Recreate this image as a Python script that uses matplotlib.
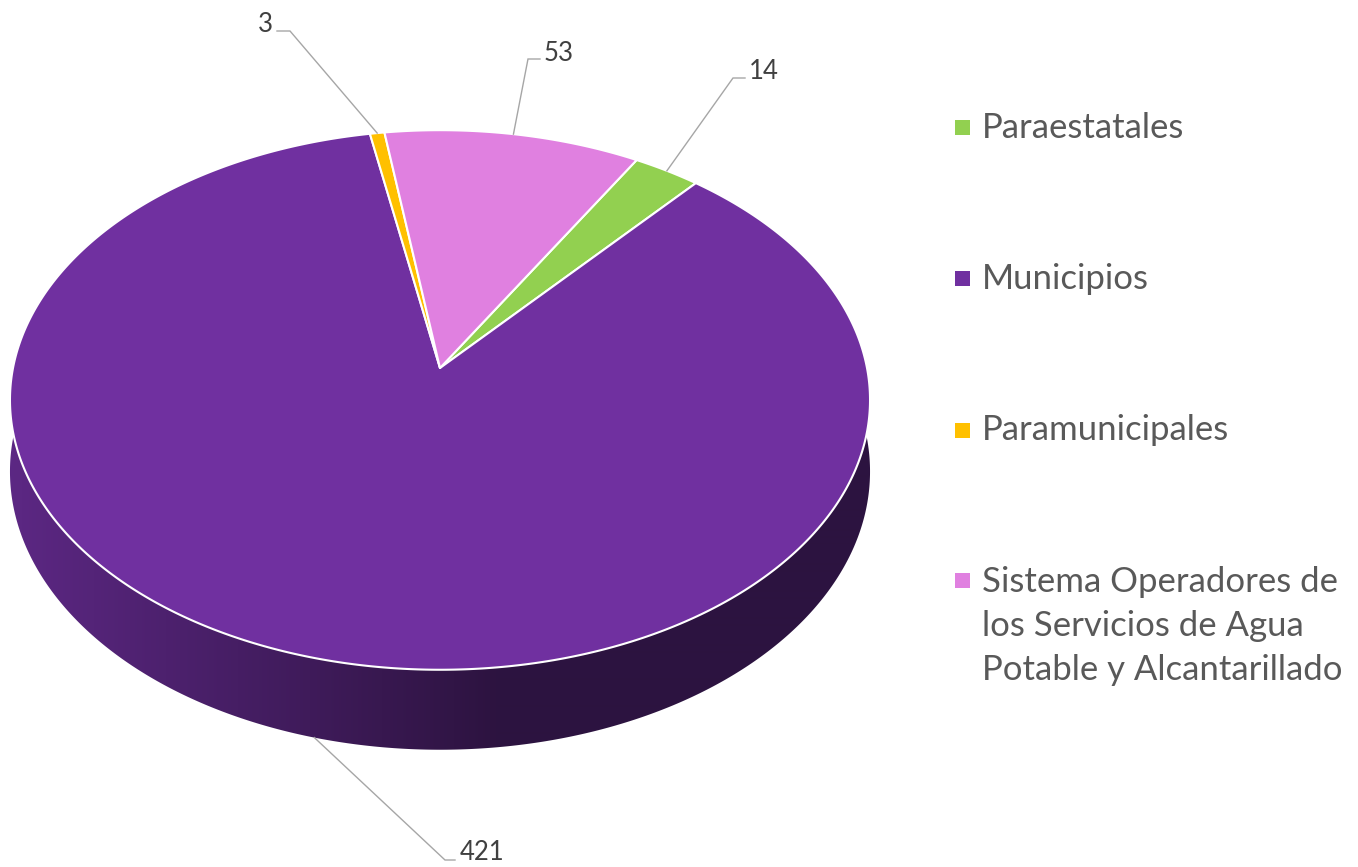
import numpy as np
import matplotlib
matplotlib.use("Agg")
import matplotlib.pyplot as plt
from matplotlib.patches import Polygon, Rectangle
from matplotlib.colors import to_rgb

# ---------------- data ----------------
categories = ["Paraestatales", "Municipios", "Paramunicipales",
              "Sistema Operadores de los Servicios de Agua Potable y Alcantarillado"]
legend_lines = [["Paraestatales"], ["Municipios"], ["Paramunicipales"],
                ["Sistema Operadores de", "los Servicios de Agua", "Potable y Alcantarillado"]]
values = [14, 421, 3, 53]
colors = ["#92D050", "#7030A0", "#FFC000", "#E080E0"]

# ---------------- layout ----------------
W, H = 1358, 867
fig = plt.figure(figsize=(W / 100, H / 100), dpi=100)
ax = fig.add_axes([0, 0, 1, 1])
ax.set_xlim(0, W)
ax.set_ylim(H, 0)
ax.axis("off")

FONT = "Lato"
cx, cy = 440, 368      # apex of pie (screen)
a, b = 427, 266        # projected radii
k = 0.1185             # perspective factor
h0 = 70.5              # depth
start = 30.5           # degrees clockwise from 12 o'clock


def proj(theta_deg, depth=0.0):
    t = np.radians(theta_deg)
    u, v = np.sin(t), np.cos(t)
    d = 1 + k * v
    return cx + a * u / d, cy - b * v / d + depth * h0 / d


total = float(sum(values))
angles = np.cumsum([0] + [v / total * 360 for v in values]) + start

# ---------- side walls (gradient, clipped) ----------
xs_col = np.arange(W) + 0.5
ucol = np.clip((xs_col - cx) / a, -1, 1)
fcol = np.clip(0.45 - 0.37 * ucol, 0.40, 0.82)
for i, val in enumerate(values):
    t1, t2 = angles[i], angles[i + 1]
    ts = np.linspace(t1, t2, max(4, int((t2 - t1) * 4)))
    ts = ts[np.cos(np.radians(ts)) < 0.15]
    if len(ts) < 2:
        continue
    tx_, ty_ = proj(ts)
    bx_, by_ = proj(ts, 1)
    pts = list(zip(tx_, ty_)) + list(zip(bx_[::-1], by_[::-1]))
    wall = Polygon(pts, closed=True, facecolor="none", edgecolor="none")
    ax.add_patch(wall)
    base = np.array(to_rgb(colors[i]))
    grad = (fcol[:, None] * base[None, :])[None, :, :].repeat(2, axis=0)
    im = ax.imshow(grad, extent=[0, W, H, 0], aspect="auto",
                   interpolation="bilinear", zorder=1)
    im.set_clip_path(wall)
ax.set_xlim(0, W)
ax.set_ylim(H, 0)

# ---------- top faces ----------
for i, val in enumerate(values):
    t1, t2 = angles[i], angles[i + 1]
    ts = np.linspace(t1, t2, max(3, int((t2 - t1) * 4)))
    xs, ys = proj(ts)
    pts = [(cx, cy)] + list(zip(xs, ys))
    ax.add_patch(Polygon(pts, closed=True, facecolor=colors[i],
                         edgecolor="white", linewidth=1.5, joinstyle="round",
                         zorder=2))

# ---------- data labels ----------
# (elbow x, elbow y, end x, text x, text baseline y, ha)
label_pos = [
    (733, 78, 745, 749, 79, "left"),
    (445, 860, 455, 460, 860, "left"),
    (290, 31, 277, 273, 32, "right"),
    (528, 59, 540, 544, 61, "left"),
]
for i, val in enumerate(values):
    tm = 0.5 * (angles[i] + angles[i + 1])
    front = np.cos(np.radians(tm)) < -0.3
    axp, ayp = proj(tm, 1 if front else 0)
    ex, ey, endx, tx, ty, ha = label_pos[i]
    ax.plot([axp, ex, endx], [ayp, ey, ey], color="#A6A6A6", lw=1.0,
            solid_joinstyle="miter", zorder=3)
    ax.text(tx, ty, str(val), ha=ha, va="baseline", fontsize=18.5,
            family=FONT, color="#404040", zorder=4)

# ---------- legend ----------
leg_baselines = [138, 289, 440, 592]
leg_square_cy = [127, 278, 430, 580]
line_gap = 44
for i, lines in enumerate(legend_lines):
    ax.add_patch(Rectangle((955, leg_square_cy[i] - 7.5), 15, 15,
                           facecolor=colors[i], edgecolor="none", zorder=3))
    for j, ln in enumerate(lines):
        ax.text(982, leg_baselines[i] + j * line_gap, ln, ha="left",
                va="baseline", fontsize=25, family=FONT, color="#595959")

fig.savefig("out.png", dpi=100, facecolor="white")
